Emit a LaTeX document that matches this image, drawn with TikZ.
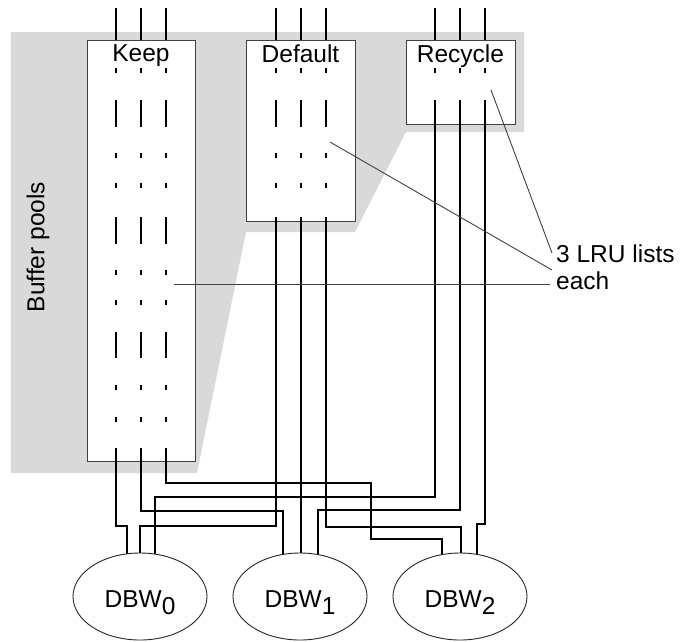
\documentclass[tikz,border=0pt]{standalone}
\usepackage{fontspec}
\setmainfont{Liberation Sans}
\usetikzlibrary{shapes.geometric}

\begin{document}
\begin{tikzpicture}[x=1pt,y=-1pt]

\tikzset{
  pool box/.style={
    draw=black!75,
    fill=white,
    line width=0.9pt,
    inner sep=0pt,
    outer sep=0pt,
  },
  pool name/.style={anchor=north, inner sep=5pt, outer sep=0pt},
  list/.style={line width=2.6pt},
  pointer/.style={draw=black!75, line width=0.9pt},
  writer/.style={
    ellipse,
    draw=black!85,
    fill=white,
    line width=0.9pt,
    minimum width=134pt,
    minimum height=87pt,
    inner sep=0pt,
    outer sep=0pt,
    text height=21pt,
    text depth=0pt,
  }
}

\fontsize{24.5}{27}\selectfont
\useasboundingbox (0,0) rectangle (680,641);

% Shaded area
\fill[black!15] (11,32) -- (524,32) -- (524,132) -- (406,132) -- (355,232)
  -- (246,232) -- (197,473) -- (11,473) -- cycle;
\node[rotate=90] (pools) at (38,247) {Buffer pools};

% Pools
\node[pool box, minimum width=108pt, minimum height=421pt,
  label={[pool name]north:Keep}] (keep) at (141,250.5) {};
\node[pool box, minimum width=109pt, minimum height=181pt,
  label={[pool name]north:Default}] (default) at (300.5,130.5) {};
\node[pool box, minimum width=109pt, minimum height=84pt,
  label={[pool name]north:Recycle}] (recycle) at (460.5,82) {};

% LRU lists
\foreach \x in {116,141,166,276,301,326,435,460,485}
  \draw[list] (\x,8) -- (\x,40) (\x,68) -- (\x,73);
\foreach \x in {116,141,166,276,301,326}
  \foreach \a/\b in {100/127,153/158,183/188}
    \draw[list] (\x,\a) -- (\x,\b);
\foreach \x in {116,141,166}
  \foreach \a/\b in {217/244,270/275,300/305,332/358,385/390,417/422}
    \draw[list] (\x,\a) -- (\x,\b);

% Writers
\coordinate (w0) at (140,596.5);
\coordinate (w1) at (300,596.5);
\coordinate (w2) at (460,596.5);

% Wires
\draw[list] (116,448) |- (127,526) -- (127,0 |- w0);
\draw[list] (141,448) |- (283,511) -- (283,0 |- w1);
\draw[list] (166,448) |- (371,483) |- (442,539) -- (442,0 |- w2);

\draw[list] (276,217) |- (140,526) -- (140,0 |- w0);
\draw[list] (301,217) -- (301,0 |- w1);
\draw[list] (326,217) |- (461,527) -- (461,0 |- w2);

\draw[list] (435,100) |- (155,497) -- (155,0 |- w0);
\draw[list] (460,100) |- (318,510) -- (318,0 |- w1);
\draw[list] (485,100) |- (477,524) -- (477,0 |- w2);

\node[writer] (dbw0) at (w0) {DBW\raisebox{-7pt}{0}};
\node[writer] (dbw1) at (w1) {DBW\raisebox{-7pt}{1}};
\node[writer] (dbw2) at (w2) {DBW\raisebox{-7pt}{2}};

% Note
\node[anchor=north west, align=left, inner sep=0pt] (lru) at (556,245)
  {3 LRU lists\\each};
\coordinate (in recycle) at (491,90);
\coordinate (in default) at (330,142);
\coordinate (in keep) at (174,284);
\coordinate (tip a) at (552,253);
\coordinate (tip b) at (552,270);
\coordinate (tip c) at (550,284);

\draw[pointer] (in recycle) -- (tip a);
\draw[pointer] (in default) -- (tip b);
\draw[pointer] (in keep) -- (tip c);

\end{tikzpicture}
\end{document}
